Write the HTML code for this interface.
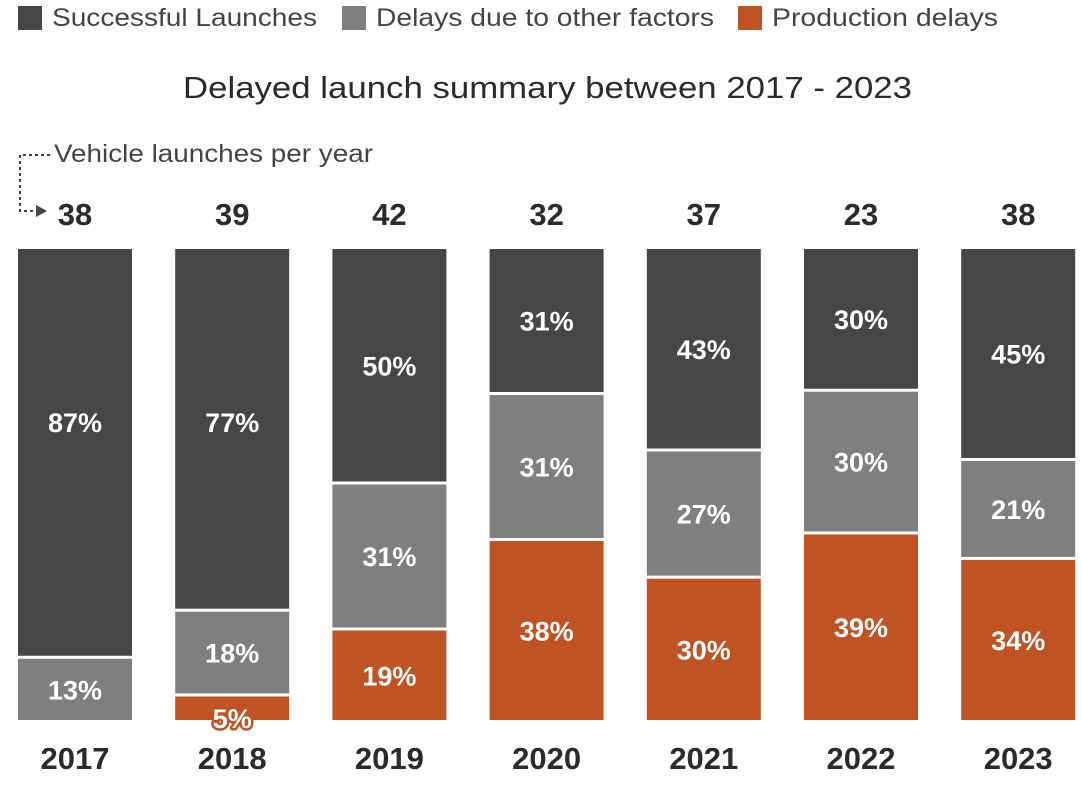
<!DOCTYPE html>
<html><head><meta charset="utf-8"><style>
body{margin:0;background:#fff;font-family:"Liberation Sans",Arial,sans-serif}
</style></head><body>
<svg id="c" width="1082" height="780" xmlns="http://www.w3.org/2000/svg" font-family="Liberation Sans, Arial, sans-serif">
<g>
<rect x="18" y="6" width="24" height="24" fill="#464646"/>
<text x="52" y="26" font-size="25" fill="#444" textLength="265" lengthAdjust="spacingAndGlyphs">Successful Launches</text>
<rect x="342" y="6" width="24" height="24" fill="#7f7f7f"/>
<text x="376" y="26" font-size="25" fill="#444" textLength="338" lengthAdjust="spacingAndGlyphs">Delays due to other factors</text>
<rect x="738" y="6" width="24" height="24" fill="#c05323"/>
<text x="772" y="26" font-size="25" fill="#444" textLength="226" lengthAdjust="spacingAndGlyphs">Production delays</text>
</g>
<text x="183" y="98" font-size="31" fill="#2b2b2b" textLength="729" lengthAdjust="spacingAndGlyphs">Delayed launch summary between 2017 - 2023</text>
<g>
<text x="54" y="162" font-size="25" fill="#444" textLength="319" lengthAdjust="spacingAndGlyphs">Vehicle launches per year</text>
<path d="M50 155 H20 V211 H36" fill="none" stroke="#444" stroke-width="2" stroke-dasharray="3,3"/>
<path d="M36 205 L47 211 L36 217 Z" fill="#444"/>
</g>
<g id="bars"></g>
</svg>
<script>
const years=["2017","2018","2019","2020","2021","2022","2023"];
const totals=[38,39,42,32,37,23,38];
const successful=[87,77,50,31,43,30,45];
const otherDelays=[13,18,31,31,27,30,21];
const production=[0,5,19,38,30,39,34];
const NS="http://www.w3.org/2000/svg";
const gBars=document.getElementById("bars");
const X0=18,STEP=157.2,BW=114,TOPY=249,BOTY=720,PH=BOTY-TOPY;
const xPos=i=>X0+i*STEP;
function mk(tag,attrs){const e=document.createElementNS(NS,tag);for(const k in attrs)e.setAttribute(k,attrs[k]);gBars.appendChild(e);return e;}
years.forEach((y,i)=>{
  const sum=successful[i]+otherDelays[i]+production[i];
  const segs=[[production[i],"#c05323","production"],[otherDelays[i],"#7f7f7f","other"],[successful[i],"#464646","successful"]];
  let cur=BOTY;const x=xPos(i);
  segs.forEach(([v,col,nm])=>{
    if(v<=0)return;
    const h=v/sum*PH;const yTop=cur-h;
    const hh=cur===BOTY?h:h-3;
    const r=mk("rect",{x:x,y:yTop,width:BW,height:Math.max(hh,0),fill:col});
    
    
    const small=h<30;
    let cy=yTop+hh/2;
    if(nm==="successful")cy=Math.min(cy,422);
    const t=mk("text",{x:x+BW/2,y:small?BOTY+8:cy+10,"font-size":27,"font-weight":"bold",fill:"#fff","text-anchor":"middle"});
    if(small){t.setAttribute("stroke",col);t.setAttribute("stroke-width","5");t.setAttribute("paint-order","stroke");t.setAttribute("stroke-linejoin","round");}
    t.textContent=v+"%";
    
    
    cur=yTop;
  });
  const tt=mk("text",{x:x+BW/2,y:225,"font-size":31,"font-weight":"bold",fill:"#2b2b2b","text-anchor":"middle"});
  tt.textContent=totals[i];
  
  
  const yl=mk("text",{x:x+BW/2,y:769,"font-size":31,"font-weight":"bold",fill:"#2b2b2b","text-anchor":"middle"});
  yl.textContent=y;
  
  
});
</script>
</body></html>
